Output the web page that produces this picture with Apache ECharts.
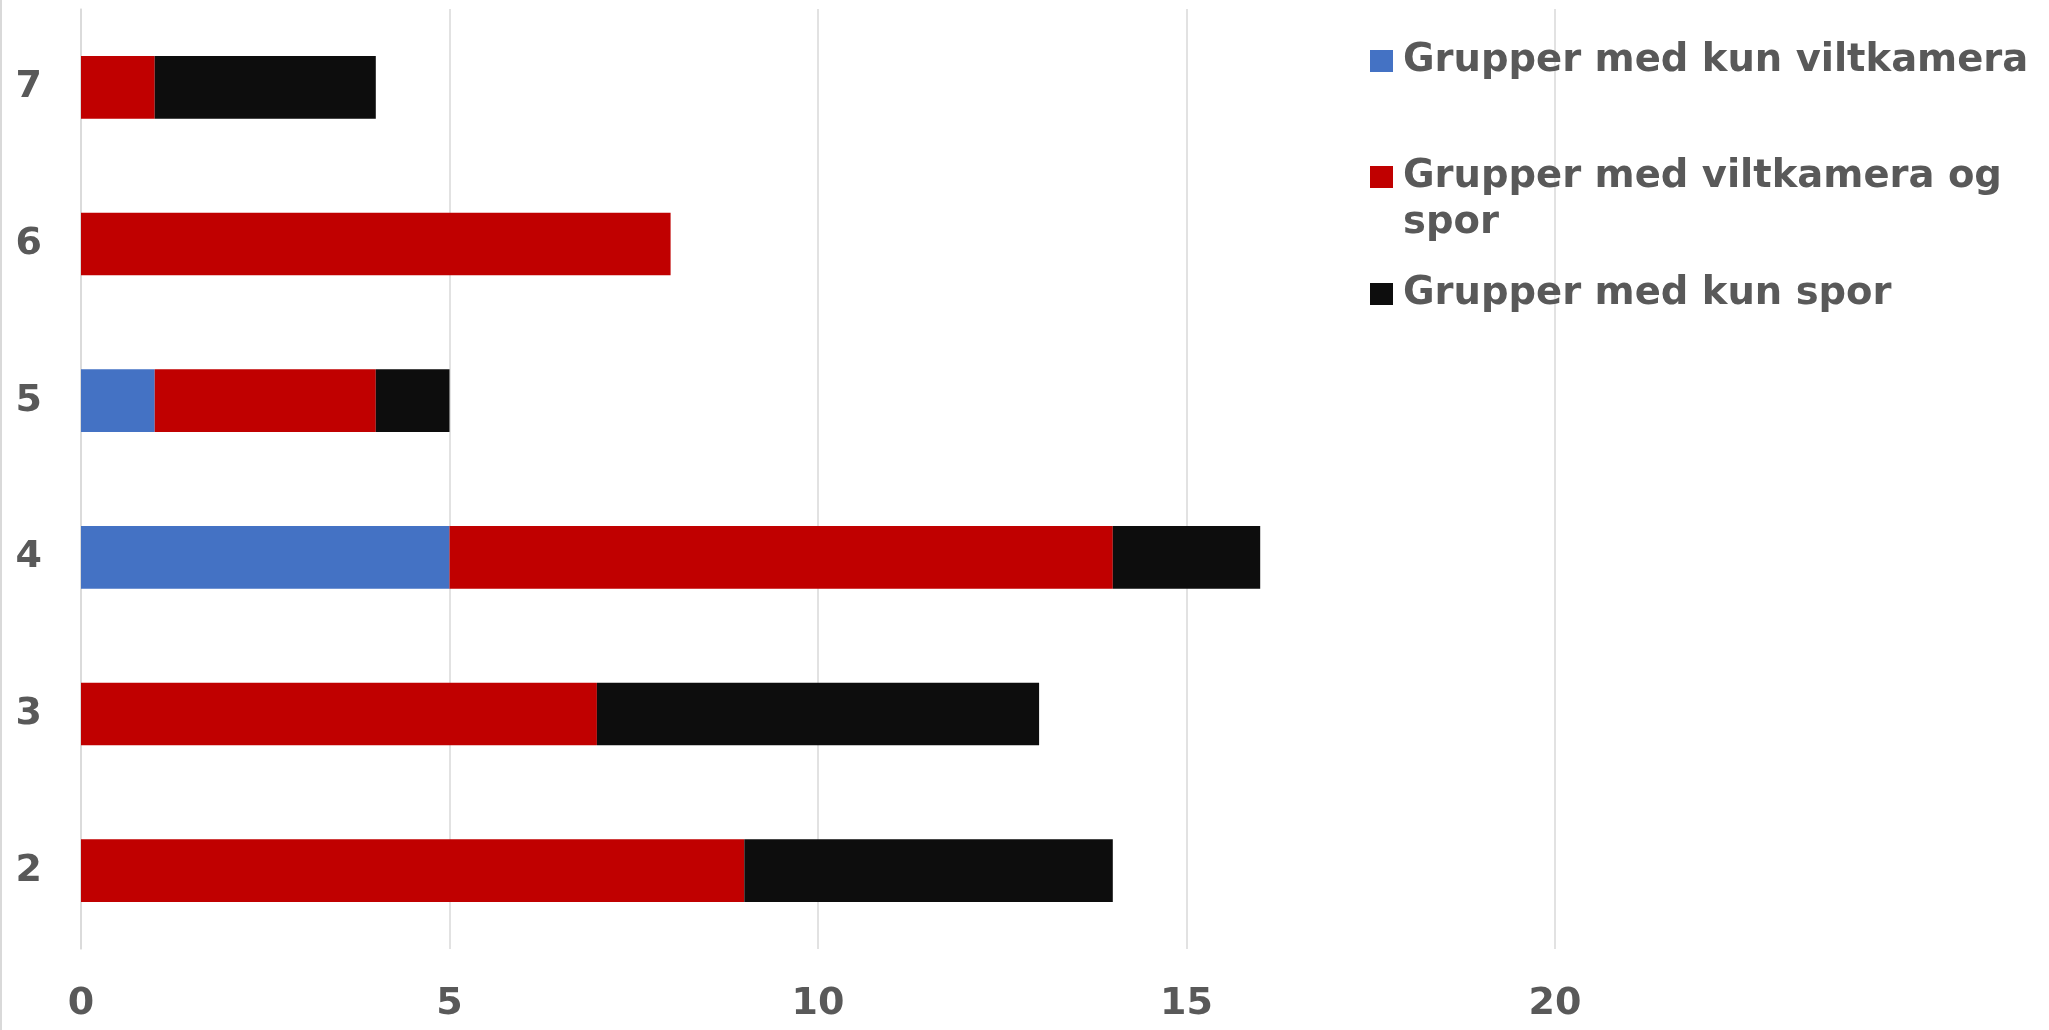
<!DOCTYPE html>
<html>
<head>
<meta charset="utf-8">
<script src="https://cdn.jsdelivr.net/npm/echarts@6/dist/echarts.min.js"></script>
<style>
html,body{margin:0;padding:0;background:#fff;}
#chart{width:2049px;height:1030px;}
</style>
</head>
<body>
<div id="chart"></div>
<script>
const categories = ['2', '3', '4', '5', '6', '7'];
const seriesNames = ['Grupper med kun viltkamera', 'Grupper med viltkamera og spor', 'Grupper med kun spor'];
const kunViltkamera = [0, 0, 5, 1, 0, 0];
const viltkameraOgSpor = [9, 7, 9, 3, 8, 1];
const kunSpor = [5, 6, 2, 1, 0, 3];
const xTicks = [0, 5, 10, 15, 20];
const colors = ['#4472C4', '#C00000', '#0D0D0D'];

const FONT = 'DejaVu Sans';
const TXT = '#595959';
const chart = echarts.init(document.getElementById('chart'));
const values = [kunViltkamera, viltkameraOgSpor, kunSpor];

const txtStyle = { fontFamily: FONT, fontWeight: 'bold', fontSize: 38.5, color: TXT, lineHeight: 46 };
const legendTops = [38, 108, 271];
const legends = seriesNames.map((n, i) => ({
  orient: 'vertical',
  left: 1370,
  top: legendTops[i],
  padding: 0,
  itemWidth: 23,
  itemHeight: 22,
  icon: 'rect',
  selectedMode: false,
  data: [n],
  formatter: nm => {
    const lines = nm === 'Grupper med viltkamera og spor' ? ['', 'Grupper med viltkamera og', 'spor'] : [nm];
    return lines.map(l => '{s|}{t|' + l + '}').join('\n');
  },
  textStyle: Object.assign({}, txtStyle, {
    rich: { s: { width: 5, height: 46 }, t: Object.assign({}, txtStyle) }
  }),
  itemGap: 10
}));

chart.setOption({
  animation: false,
  backgroundColor: '#ffffff',
  color: colors,
  grid: { left: 81, right: 494, top: 9, bottom: 81, containLabel: false },
  legend: legends,
  xAxis: {
    type: 'value',
    min: 0, max: 20, interval: 5,
    axisLine: { show: false },
    axisTick: { show: false },
    splitLine: { show: true, lineStyle: { color: '#d9d9d9', width: 1.5 } },
    axisLabel: {
      margin: 36,
      fontFamily: FONT, fontWeight: 'bold', fontSize: 38, color: TXT,
      formatter: v => xTicks.includes(v) ? String(v) : ''
    }
  },
  yAxis: {
    type: 'category',
    data: categories,
    axisLine: { show: true, lineStyle: { color: '#d9d9d9', width: 1.5 } },
    axisTick: { show: false },
    axisLabel: { margin: 39, fontFamily: FONT, fontWeight: 'bold', fontSize: 38, color: TXT }
  },
  series: seriesNames.map((n, i) => ({
    name: n,
    type: 'bar',
    stack: 'total',
    barCategoryGap: '60%',
    data: values[i],
    itemStyle: { color: colors[i] }
  })),
  graphic: [{
    type: 'line',
    shape: { x1: 1, y1: 0, x2: 1, y2: 1030 },
    style: { stroke: '#d9d9d9', lineWidth: 2 }
  }]
});
</script>
</body>
</html>
